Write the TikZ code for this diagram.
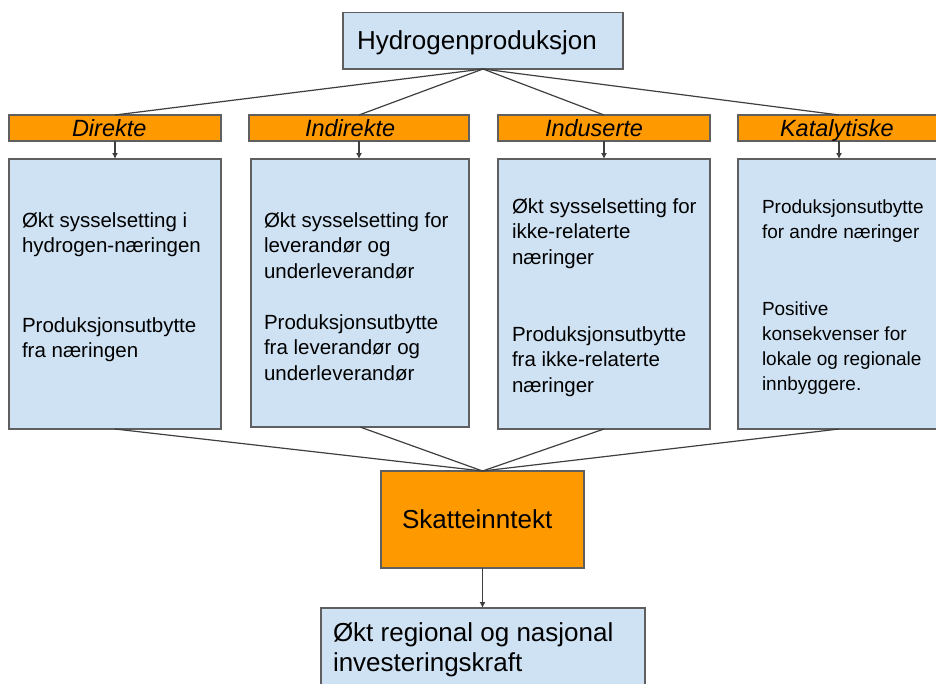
\documentclass[tikz,border=0pt]{standalone}
\usepackage{fontspec}
\setmainfont{Liberation Sans}
\usetikzlibrary{arrows.meta}
\definecolor{paleblue}{HTML}{CFE2F3}
\definecolor{amber}{HTML}{FF9900}
\definecolor{edgegray}{HTML}{5F5F5F}
\definecolor{wiregray}{HTML}{3F3F3F}
\begin{document}
\begin{tikzpicture}[x=1pt,y=-1pt,
  box/.style={draw=edgegray, line width=1.1pt, inner sep=0pt, outer sep=0pt, anchor=north west},
  bluebox/.style={box, fill=paleblue},
  orangebox/.style={box, fill=amber},
  wire/.style={draw=wiregray, line width=1.2pt},
  arrowwire/.style={wire, -{Latex[length=6pt,width=6pt]}},
  label/.style={anchor=base west, inner sep=0pt, outer sep=0pt, text=black},
  bigtext/.style={label, font=\fontsize{26}{30}\selectfont},
  headtext/.style={label, font=\fontsize{23.5}{26}\selectfont\itshape},
  bodytext/.style={label, align=left, font=\fontsize{20.5}{25.5}\selectfont},
  smalltext/.style={label, align=left, font=\fontsize{19}{25}\selectfont}
]
\useasboundingbox (0,0) rectangle (936,683);
\clip (0,0) rectangle (936,683);

% source
\node[bluebox, minimum width=280pt, minimum height=56.3pt] (src) at (343,12.7) {};
\node[bigtext] (srclabel) at (357,49.3) {Hydrogenproduksjon};

% effect categories
\node[orangebox, minimum width=212pt, minimum height=26pt] (h1) at (9,115) {};
\node[orangebox, minimum width=220pt, minimum height=26pt] (h2) at (249,115) {};
\node[orangebox, minimum width=212pt, minimum height=26pt] (h3) at (498,115) {};
\node[orangebox, minimum width=202pt, minimum height=26pt] (h4) at (738,115) {};
\node[headtext] (h1label) at (72,136) {Direkte};
\node[headtext] (h2label) at (305,136) {Indirekte};
\node[headtext] (h3label) at (545,136) {Induserte};
\node[headtext] (h4label) at (780,136) {Katalytiske};

% effect descriptions (text nodes are placed at the baseline of their last line)
\node[bluebox, minimum width=212pt, minimum height=270pt] (b1) at (9,159) {};
\node[bluebox, minimum width=218pt, minimum height=268pt] (b2) at (251,159) {};
\node[bluebox, minimum width=212pt, minimum height=270pt] (b3) at (498,159) {};
\node[bluebox, minimum width=202pt, minimum height=270pt] (b4) at (738,159) {};

\node[bodytext] (b1a) at (22,252.5) {Økt sysselsetting i\\hydrogen-næringen};
\node[bodytext] (b1b) at (22,357.5) {Produksjonsutbytte\\fra næringen};
\node[bodytext] (b2a) at (264,278) {Økt sysselsetting for\\leverandør og\\underleverandør};
\node[bodytext] (b2b) at (264,380) {Produksjonsutbytte\\fra leverandør og\\underleverandør};
\node[bodytext] (b3a) at (512,264) {Økt sysselsetting for\\ikke-relaterte\\næringer};
\node[bodytext] (b3b) at (512,392) {Produksjonsutbytte\\fra ikke-relaterte\\næringer};
\node[smalltext] (b4a) at (762,238) {Produksjonsutbytte\\for andre næringer};
\node[smalltext] (b4b) at (762,390) {Positive\\konsekvenser for\\lokale og regionale\\innbyggere.};

% tax revenue and outcome
\node[orangebox, minimum width=203pt, minimum height=97pt] (tax) at (381,471) {};
\node[bigtext] (taxlabel) at (402,528.3) {Skatteinntekt};
\node[bluebox, minimum width=324pt, minimum height=90pt] (out) at (321,608) {};
\node[bigtext, align=left] (outlabel) at (333,671.7) {Økt regional og nasjonal\\investeringskraft};

% connectors
\foreach \h in {h1,h2,h3,h4} \draw[wire] (src.south) -- (\h.north);
\foreach \h/\b in {h1/b1,h2/b2,h3/b3,h4/b4} \draw[arrowwire] (\h.south) -- (\h.south |- \b.north);
\foreach \b in {b1,b2,b3,b4} \draw[wire] (\b.south) -- (tax.north);
\draw[arrowwire] (tax.south) -- (tax.south |- out.north);
\end{tikzpicture}
\end{document}
